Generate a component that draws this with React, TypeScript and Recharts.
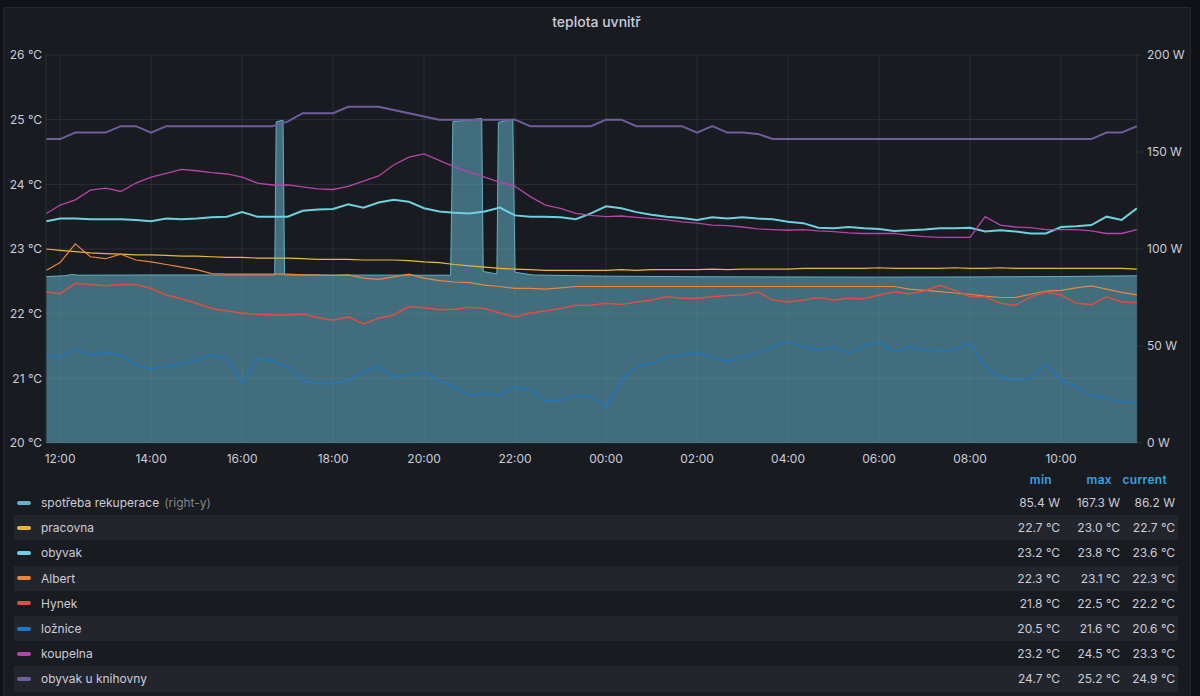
import { ComposedChart, Line, Area, XAxis, YAxis, CartesianGrid } from "recharts"

// sample times (every 20 min) for the temperature sensors
const timeLabels = [
  "11:42",
  "12:00", "12:20", "12:40", "13:00", "13:20", "13:40",
  "14:00", "14:20", "14:40", "15:00", "15:20", "15:40",
  "16:00", "16:20", "16:40", "17:00", "17:20", "17:40",
  "18:00", "18:20", "18:40", "19:00", "19:20", "19:40",
  "20:00", "20:20", "20:40", "21:00", "21:20", "21:40",
  "22:00", "22:20", "22:40", "23:00", "23:20", "23:40",
  "00:00", "00:20", "00:40", "01:00", "01:20", "01:40",
  "02:00", "02:20", "02:40", "03:00", "03:20", "03:40",
  "04:00", "04:20", "04:40", "05:00", "05:20", "05:40",
  "06:00", "06:20", "06:40", "07:00", "07:20", "07:40",
  "08:00", "08:20", "08:40", "09:00", "09:20", "09:40",
  "10:00", "10:20", "10:40", "11:00", "11:20", "11:40",
]

const pracovna = [
  23.0,
  22.98, 22.96, 22.94, 22.93, 22.92, 22.91,
  22.91, 22.9, 22.89, 22.89, 22.88, 22.87,
  22.87, 22.86, 22.86, 22.86, 22.85, 22.84,
  22.84, 22.84, 22.83, 22.83, 22.83, 22.82,
  22.8, 22.79, 22.76, 22.74, 22.72, 22.7,
  22.69, 22.68, 22.67, 22.67, 22.67, 22.67,
  22.67, 22.68, 22.67, 22.68, 22.68, 22.68,
  22.68, 22.69, 22.68, 22.69, 22.69, 22.69,
  22.69, 22.7, 22.7, 22.7, 22.7, 22.7,
  22.71, 22.7, 22.7, 22.7, 22.7, 22.71,
  22.7, 22.7, 22.71, 22.7, 22.7, 22.7,
  22.7, 22.7, 22.7, 22.7, 22.7, 22.69,
]

const obyvak = [
  23.43,
  23.47, 23.47, 23.46, 23.46, 23.46, 23.45,
  23.43, 23.47, 23.46, 23.47, 23.49, 23.5,
  23.57, 23.5, 23.5, 23.5, 23.59, 23.61,
  23.62, 23.69, 23.64, 23.72, 23.76, 23.73,
  23.63, 23.58, 23.56, 23.55, 23.58, 23.64,
  23.52, 23.5, 23.5, 23.49, 23.46, 23.55,
  23.66, 23.63, 23.57, 23.53, 23.5, 23.48,
  23.45, 23.49, 23.47, 23.49, 23.47, 23.46,
  23.42, 23.4, 23.33, 23.32, 23.34, 23.32,
  23.31, 23.28, 23.29, 23.3, 23.32, 23.32,
  23.33, 23.27, 23.29, 23.27, 23.24, 23.24,
  23.34, 23.35, 23.37, 23.5, 23.45, 23.63,
]

const albert = [
  22.67,
  22.79, 23.08, 22.88, 22.85, 22.92, 22.83,
  22.8, 22.76, 22.72, 22.68, 22.62, 22.61,
  22.61, 22.61, 22.61, 22.61, 22.6, 22.6,
  22.59, 22.6, 22.55, 22.53, 22.57, 22.61,
  22.55, 22.51, 22.49, 22.48, 22.44, 22.42,
  22.39, 22.39, 22.38, 22.4, 22.42, 22.42,
  22.42, 22.42, 22.42, 22.42, 22.42, 22.42,
  22.42, 22.42, 22.42, 22.42, 22.42, 22.42,
  22.42, 22.42, 22.42, 22.42, 22.42, 22.42,
  22.42, 22.42, 22.38, 22.36, 22.34, 22.32,
  22.3, 22.27, 22.25, 22.25, 22.3, 22.35,
  22.36, 22.4, 22.43, 22.38, 22.33, 22.29,
]

const hynek = [
  22.34,
  22.31, 22.47, 22.45, 22.43, 22.45, 22.45,
  22.39, 22.29, 22.23, 22.16, 22.08, 22.04,
  22.01, 21.99, 21.98, 21.98, 21.99, 21.94,
  21.9, 21.95, 21.84, 21.93, 21.98, 22.11,
  22.09, 22.06, 22.07, 22.1, 22.08, 22.01,
  21.95, 22.01, 22.04, 22.08, 22.13, 22.13,
  22.16, 22.14, 22.18, 22.21, 22.26, 22.24,
  22.24, 22.26, 22.28, 22.29, 22.34, 22.21,
  22.18, 22.21, 22.25, 22.21, 22.24, 22.23,
  22.29, 22.34, 22.31, 22.35, 22.44, 22.36,
  22.26, 22.26, 22.16, 22.13, 22.26, 22.34,
  22.29, 22.16, 22.14, 22.26, 22.18, 22.17,
]

const loznice = [
  21.36,
  21.33, 21.44, 21.36, 21.39, 21.36, 21.21,
  21.15, 21.18, 21.23, 21.28, 21.36, 21.31,
  20.92, 21.31, 21.26, 21.18, 20.97, 20.92,
  20.92, 20.97, 21.1, 21.18, 21.02, 21.05,
  21.1, 20.95, 20.87, 20.74, 20.77, 20.74,
  20.87, 20.82, 20.64, 20.66, 20.74, 20.72,
  20.55, 20.97, 21.18, 21.23, 21.33, 21.36,
  21.39, 21.33, 21.26, 21.33, 21.39, 21.49,
  21.57, 21.49, 21.44, 21.49, 21.39, 21.49,
  21.56, 21.41, 21.49, 21.44, 21.41, 21.44,
  21.54, 21.18, 21.02, 20.97, 21.0, 21.23,
  20.97, 20.87, 20.74, 20.69, 20.64, 20.62,
]

const koupelna = [
  23.55,
  23.68, 23.76, 23.91, 23.94, 23.89, 24.02,
  24.11, 24.17, 24.23, 24.21, 24.18, 24.16,
  24.11, 24.02, 23.99, 23.99, 23.96, 23.93,
  23.92, 23.97, 24.05, 24.13, 24.3, 24.42,
  24.47, 24.37, 24.27, 24.19, 24.11, 24.03,
  23.97, 23.81, 23.68, 23.63, 23.55, 23.52,
  23.5, 23.51, 23.49, 23.47, 23.45, 23.42,
  23.4, 23.37, 23.36, 23.34, 23.31, 23.3,
  23.29, 23.3, 23.28, 23.27, 23.25, 23.24,
  23.24, 23.24, 23.21, 23.19, 23.18, 23.18,
  23.18, 23.5, 23.37, 23.34, 23.33, 23.3,
  23.3, 23.3, 23.28, 23.24, 23.24, 23.3,
]

const knihovna = [
  24.7,
  24.7, 24.8, 24.8, 24.8, 24.9, 24.9,
  24.8, 24.9, 24.9, 24.9, 24.9, 24.9,
  24.9, 24.9, 24.9, 24.97, 25.1, 25.1,
  25.1, 25.2, 25.2, 25.2, 25.15, 25.1,
  25.05, 25.0, 25.0, 25.0, 25.0, 25.0,
  25.0, 24.9, 24.9, 24.9, 24.9, 24.9,
  25.0, 25.0, 24.9, 24.9, 24.9, 24.9,
  24.8, 24.9, 24.8, 24.8, 24.78, 24.7,
  24.7, 24.7, 24.7, 24.7, 24.7, 24.7,
  24.7, 24.7, 24.7, 24.7, 24.7, 24.7,
  24.7, 24.7, 24.7, 24.7, 24.7, 24.7,
  24.7, 24.7, 24.7, 24.8, 24.8, 24.9,
]

// recuperation power draw (right axis, W)
const recupTimes = [
  "11:42", "12:06", "12:15", "12:24", "14:00", "16:00",
  "16:43", "16:45", "16:54", "16:56", "18:00", "20:00",
  "20:35", "20:38", "21:16", "21:18", "21:36", "21:38",
  "21:57", "22:00", "22:24", "00:00", "02:00", "04:00",
  "06:00", "08:00", "10:00", "11:40",
]
const recupWatts = [
  85.8, 86.2, 86.9, 86.5, 86.6, 86.6,
  86.6, 165.6, 166.4, 86.6, 86.6, 86.5,
  86.5, 165.6, 167.3, 88.4, 87.1, 165.2,
  167.0, 88.0, 86.6, 86.0, 85.7, 85.6,
  85.5, 85.6, 85.8, 86.2,
]

const xTicks = [0, 2, 4, 6, 8, 10, 12, 14, 16, 18, 20, 22]
const tempTicks = [20, 21, 22, 23, 24, 25, 26]
const wattTicks = [0, 50, 100, 150, 200]

const legendNames = ["spotřeba rekuperace", "pracovna", "obyvak", "Albert", "Hynek", "ložnice", "koupelna", "obyvak u knihovny"]
const legendColors = ["#64B0C8", "#EAB839", "#6ED0E0", "#EF843C", "#E24D42", "#1F78C1", "#BA43A9", "#705DA0"]
const statMin = [85.4, 22.7, 23.2, 22.3, 21.8, 20.5, 23.2, 24.7]
const statMax = [167.3, 23.0, 23.8, 23.1, 22.5, 21.6, 24.5, 25.2]
const statCurrent = [86.2, 22.7, 23.6, 22.3, 22.2, 20.6, 23.3, 24.9]

const toHours = (clock: string) => {
  const [h, m] = clock.split(":").map(Number)
  let v = h + m / 60 - 12
  if (v < -0.32) v += 24
  return v
}

const tempRows = timeLabels.map((c, i) => ({
  t: toHours(c),
  pracovna: pracovna[i],
  obyvak: obyvak[i],
  albert: albert[i],
  hynek: hynek[i],
  loznice: loznice[i],
  koupelna: koupelna[i],
  knihovna: knihovna[i],
}))

const recupRows = recupTimes.map((c, i) => ({ t: toHours(c), w: recupWatts[i] }))

const fmtClock = (h: number) => {
  const hh = (12 + h) % 24
  return `${String(hh).padStart(2, "0")}:00`
}

const TEXT = "#ccccdc"
const GRID = "rgba(204,204,220,0.11)"
const FONT = "Inter, 'Noto Sans', sans-serif"

export default function App() {
  const axisTick = { fill: TEXT, fontSize: 12, fontFamily: FONT }

  return (
    <div style={{ position: "absolute", left: 0, top: 0, width: 1200, height: 696, background: "#111217", overflow: "hidden", fontFamily: FONT }}>
      <div
        style={{
          position: "absolute",
          left: 3,
          top: 7,
          width: 1186,
          height: 700,
          background: "#181b1f",
          border: "1px solid rgba(204,204,220,0.08)",
          borderRadius: 2,
        }}
      />
      <div style={{ position: "absolute", left: 0, width: 1193, top: 13, textAlign: "center", color: TEXT, fontSize: 14, fontWeight: 500 }}>
        teplota uvnitř
      </div>

      <div style={{ position: "absolute", left: 0, top: 0 }}>
        <ComposedChart width={1200} height={470} data={tempRows} margin={{ top: 55, right: 0, bottom: 0, left: 0 }}>
          <CartesianGrid yAxisId="left" stroke={GRID} strokeWidth={1} />
          <XAxis
            dataKey="t"
            type="number"
            domain={[-0.31, 23.67]}
            allowDataOverflow
            ticks={xTicks}
            tickFormatter={fmtClock}
            tick={axisTick}
            axisLine={false}
            tickLine={false}
            tickSize={0}
            tickMargin={11}
            height={27}
          />
          <YAxis
            yAxisId="left"
            domain={[20, 26]}
            ticks={tempTicks}
            tickFormatter={(v: number) => `${v} °C`}
            tick={axisTick}
            axisLine={false}
            tickLine={false}
            tickSize={0}
            tickMargin={4}
            width={46}
          />
          <YAxis
            yAxisId="right"
            orientation="right"
            domain={[0, 200]}
            ticks={wattTicks}
            tickFormatter={(v: number) => `${v} W`}
            tick={axisTick}
            axisLine={false}
            tickLine={{ stroke: GRID }}
            tickSize={6}
            tickMargin={4}
            width={63}
          />
          <Area
            yAxisId="right"
            data={recupRows}
            dataKey="w"
            type="linear"
            stroke="#64B0C8"
            strokeWidth={1}
            fill="#64B0C8"
            fillOpacity={0.55}
            dot={false}
            activeDot={false}
            isAnimationActive={false}
          />
          <Line yAxisId="left" dataKey="pracovna" type="linear" stroke="#EAB839" strokeWidth={1.2} dot={false} isAnimationActive={false} />
          <Line yAxisId="left" dataKey="obyvak" type="linear" stroke="#6ED0E0" strokeWidth={2} dot={false} isAnimationActive={false} />
          <Line yAxisId="left" dataKey="albert" type="linear" stroke="#EF843C" strokeWidth={1.2} dot={false} isAnimationActive={false} />
          <Line yAxisId="left" dataKey="hynek" type="linear" stroke="#E24D42" strokeWidth={1.5} dot={false} isAnimationActive={false} />
          <Line yAxisId="left" dataKey="loznice" type="linear" stroke="#1F78C1" strokeWidth={1.5} dot={false} isAnimationActive={false} />
          <Line yAxisId="left" dataKey="koupelna" type="linear" stroke="#BA43A9" strokeWidth={1.3} dot={false} isAnimationActive={false} />
          <Line yAxisId="left" dataKey="knihovna" type="linear" stroke="#705DA0" strokeWidth={2} dot={false} isAnimationActive={false} />
        </ComposedChart>
      </div>

      {/* legend table */}
      {["min", "max", "current"].map((h, i) => (
        <div
          key={h}
          style={{
            position: "absolute",
            top: 472,
            right: [148, 88, 33][i],
            color: "#33a2e5",
            fontSize: 12,
            fontWeight: 600,
            letterSpacing: 0.3,
          }}
        >
          {h}
        </div>
      ))}
      {legendNames.map((name, i) => {
        const unit = i === 0 ? "W" : "°C"
        const top = 490 + 25.2 * i
        return (
          <div
            key={name}
            style={{
              position: "absolute",
              left: 14,
              width: 1164,
              top,
              height: 25.2,
              background: i % 2 === 1 ? "#22252b" : "transparent",
              color: TEXT,
              fontSize: 12,
            }}
          >
            <div style={{ position: "absolute", left: 3, top: 10.6, width: 14, height: 4, borderRadius: 2, background: legendColors[i] }} />
            <div style={{ position: "absolute", left: 27, top: 5 }}>
              {name}
              {i === 0 && <span style={{ color: "rgba(204,204,220,0.6)", marginLeft: 5 }}>(right-y)</span>}
            </div>
            <div style={{ position: "absolute", right: 118, top: 5 }}>{`${statMin[i].toFixed(1)} ${unit}`}</div>
            <div style={{ position: "absolute", right: 58, top: 5 }}>{`${statMax[i].toFixed(1)} ${unit}`}</div>
            <div style={{ position: "absolute", right: 3, top: 5 }}>{`${statCurrent[i].toFixed(1)} ${unit}`}</div>
          </div>
        )
      })}
    </div>
  )
}
